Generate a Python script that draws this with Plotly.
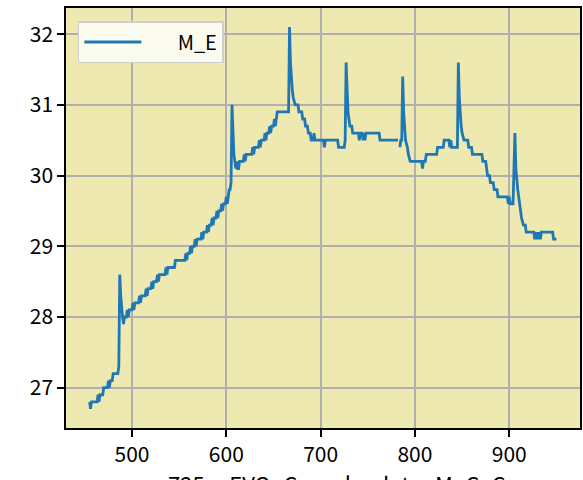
"""
M_E trace — step-like series with transient spikes, matplotlib-style look.
"""

import plotly.graph_objects as go

# breakpoints (None = gap in the record)
x_vals = [
    455, 456, 457, 463, 464, 465, 466, 469, 470, 474, 475, 476, 477, 479, 480, 485, 486,
    487, 488, 489, 490, 491, 492, 494, 495, 496, 497, 500, 501, 502, 503, 507, 508, 509,
    510, 514, 515, 516, 517, 520, 521, 522, 523, 526, 527, 528, 529, 535, 536, 537, 538,
    545, 546, 556, 557, 558, 559, 561, 562, 563, 564, 566, 567, 568, 569, 573, 574, 575,
    576, 579, 580, 581, 582, 584, 585, 586, 587, 589, 590, 591, 592, 594, 595, 596, 597,
    599, 600, 601, 602, 603, 604, 605, 606, 607, 608, 609, 610, 611, 612, 613, 614, 618,
    619, 620, 621, 627, 628, 629, 630, 634, 635, 636, 637, 640, 641, 642, 643, 645, 646,
    647, 648, 650, 651, 652, 653, 654, 666, 667, 668, 669, 670, 671, 673, 676, 677, 680,
    681, 683, 684, 686, 687, 689, 690, 692, 693, 694, 703, 704, 705, 718, 719, 725, 726,
    727, 728, 729, 730, 731, 733, 734, 740, 741, 742, 744, 745, 746, 747, 748, 762, 763,
    782, None, 784, 785, 786, 787, 788, 789, 790, 792, 793, 795, 807, 808, 809, 811, 812,
    823, 824, 830, 831, 836, 837, 838, 839, 845, 846, 847, 848, 849, 850, 852, 856, 857,
    860, 861, 871, 872, 875, 876, 877, 879, 880, 883, 884, 887, 888, 898, 899, 900, 901,
    904, 905, 906, 907, 908, 909, 910, 912, 913, 915, 917, 918, 926, 927, 928, 929, 930,
    931, 932, 933, 934, 946, 947, 950,
]
m_e = [
    26.8, 26.7, 26.8, 26.8, 26.9, 26.8, 26.9, 26.9, 27.0, 27.0, 27.1, 27.0, 27.1, 27.1, 27.2, 27.2, 27.3,
    28.6, 28.3, 28.1, 28.0, 27.9, 28.0, 28.0, 28.1, 28.0, 28.1, 28.1, 28.2, 28.1, 28.2, 28.2, 28.3, 28.2,
    28.3, 28.3, 28.4, 28.3, 28.4, 28.4, 28.5, 28.4, 28.5, 28.5, 28.6, 28.5, 28.6, 28.6, 28.7, 28.6, 28.7,
    28.7, 28.8, 28.8, 28.9, 28.8, 28.9, 28.9, 29.0, 28.9, 29.0, 29.0, 29.1, 29.0, 29.1, 29.1, 29.2, 29.1,
    29.2, 29.2, 29.3, 29.2, 29.3, 29.3, 29.4, 29.3, 29.4, 29.4, 29.5, 29.4, 29.5, 29.5, 29.6, 29.5, 29.6,
    29.6, 29.7, 29.6, 29.7, 29.8, 29.8, 29.9, 31.0, 30.5, 30.3, 30.2, 30.1, 30.2, 30.1, 30.1, 30.2, 30.2,
    30.3, 30.2, 30.3, 30.3, 30.4, 30.3, 30.4, 30.4, 30.5, 30.4, 30.5, 30.5, 30.6, 30.5, 30.6, 30.6, 30.7,
    30.6, 30.7, 30.7, 30.8, 30.7, 30.8, 30.9, 30.9, 32.1, 31.6, 31.3, 31.2, 31.1, 31.0, 31.0, 30.9, 30.9,
    30.8, 30.8, 30.7, 30.7, 30.6, 30.6, 30.5, 30.5, 30.6, 30.5, 30.5, 30.4, 30.5, 30.5, 30.4, 30.4, 30.5,
    31.6, 31.1, 30.9, 30.8, 30.7, 30.7, 30.6, 30.6, 30.5, 30.6, 30.6, 30.5, 30.6, 30.5, 30.6, 30.6, 30.5,
    30.5, None, 30.4, 30.5, 30.5, 31.4, 30.9, 30.6, 30.5, 30.4, 30.3, 30.2, 30.2, 30.1, 30.2, 30.2, 30.3,
    30.3, 30.4, 30.4, 30.5, 30.5, 30.4, 30.5, 30.4, 30.4, 31.6, 31.1, 30.8, 30.7, 30.6, 30.5, 30.5, 30.4,
    30.4, 30.3, 30.3, 30.2, 30.2, 30.1, 30.0, 30.0, 29.9, 29.9, 29.8, 29.8, 29.7, 29.7, 29.6, 29.7, 29.6,
    29.6, 30.0, 30.6, 30.1, 29.9, 29.8, 29.7, 29.5, 29.4, 29.3, 29.3, 29.2, 29.2, 29.1, 29.2, 29.1, 29.2,
    29.1, 29.2, 29.1, 29.2, 29.2, 29.1, 29.1,
]
x_ticks = [500, 600, 700, 800, 900]
y_ticks = [27, 28, 29, 30, 31, 32]

FONT = "Noto Sans CJK JP"

fig = go.Figure(go.Scatter(
    x=x_vals, y=m_e, mode="lines",
    name="\u00a0" * 7 + "M_E",
    line=dict(color="#1f77b4", width=2.8),
    connectgaps=False,
))

axis_common = dict(
    showline=True, mirror=True, linecolor="black", linewidth=1.5,
    ticks="outside", ticklen=7, tickwidth=1.5, tickcolor="black",
    showgrid=True, gridcolor="#b0b0b0", gridwidth=1.5, zeroline=False,
    tickfont=dict(family=FONT, size=21, color="black"),
)

fig.update_layout(
    width=583, height=480,
    paper_bgcolor="white", plot_bgcolor="#eee9b1",
    margin=dict(l=66, r=1, t=8, b=52),
    xaxis=dict(range=[430, 975], tickvals=x_ticks, **axis_common),
    yaxis=dict(range=[26.43, 32.37], tickvals=y_ticks, **axis_common),
    showlegend=True,
    legend=dict(
        x=0.023, y=0.969, xanchor="left", yanchor="top",
        bgcolor="#fbfaef", bordercolor="#cfcfcf", borderwidth=1.5,
        font=dict(family=FONT, size=20, color="black"),
        itemwidth=57,
    ),
)

# x label, mostly below the visible window like in the reference
fig.add_annotation(
    text="725__EVO_C_acel_ed_to_M_C_C",
    xref="paper", yref="paper", x=0.195, y=-0.087,
    xanchor="left", yanchor="top", showarrow=False,
    font=dict(family=FONT, size=22, color="black"),
)

# drop the default page margin so the figure sits at the window corner
fig.write_html(
    "out.html",
    config={"displayModeBar": False},
    post_script="document.body.style.margin='0';document.body.style.overflow='hidden';",
)
